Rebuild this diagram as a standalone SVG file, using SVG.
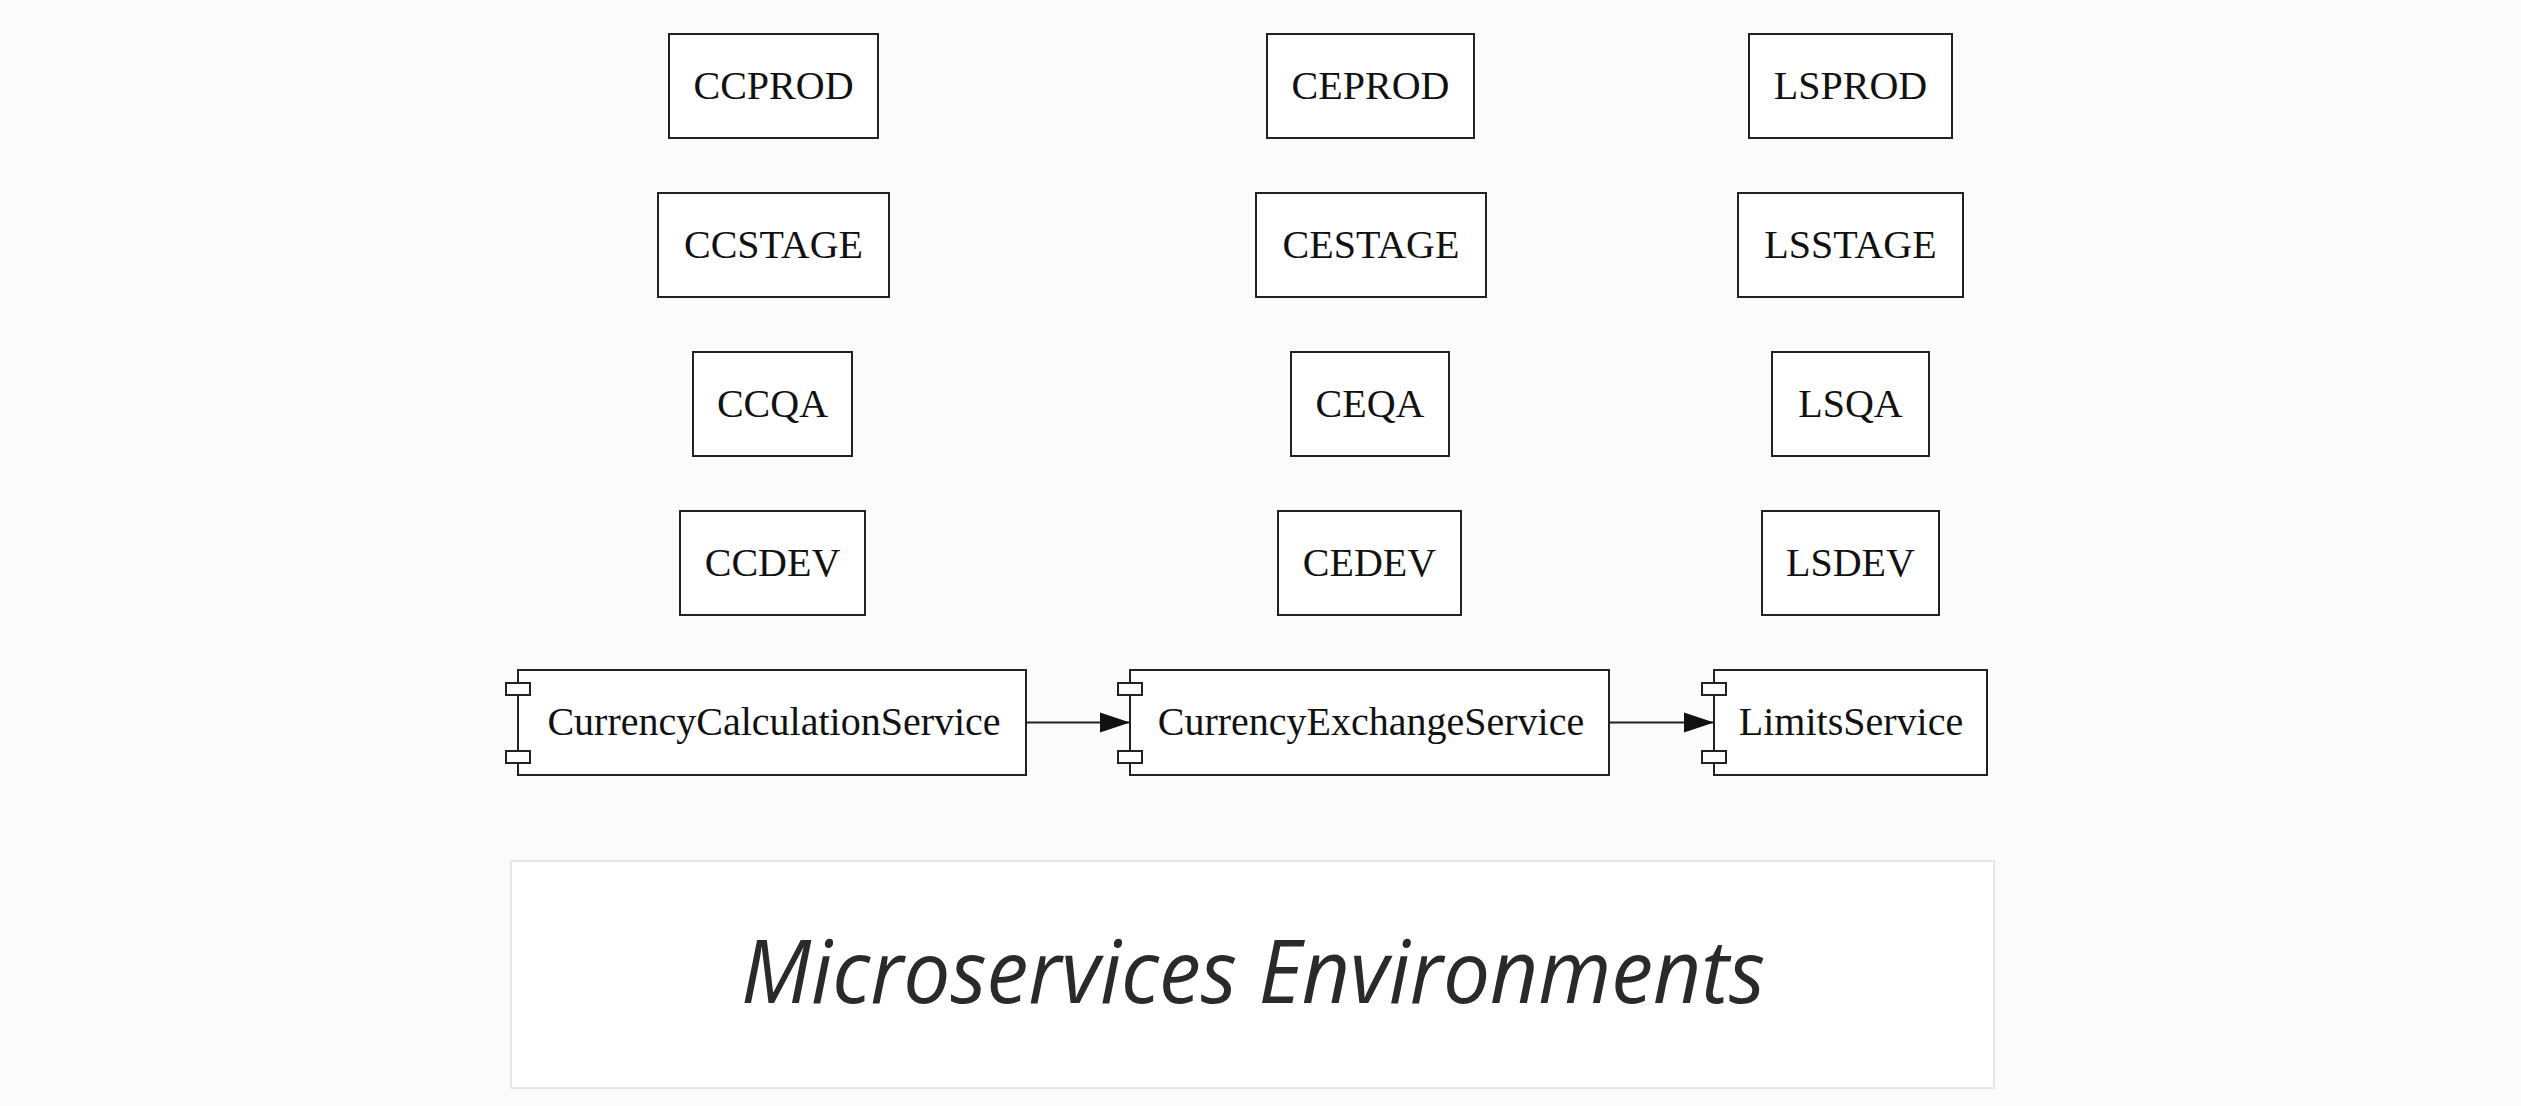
<svg xmlns="http://www.w3.org/2000/svg" width="2521" height="1106" viewBox="0 0 2521 1106">
<style>
.box{fill:#ffffff;stroke:#222;stroke-width:2}
.port{fill:#ffffff;stroke:#222;stroke-width:2}
.lbl{font-family:"Liberation Serif","Times New Roman",serif;font-size:40px;fill:#111;text-anchor:middle}
.edge{stroke:#222;stroke-width:2;fill:none}
.card{fill:#ffffff;stroke:#e6e6e6;stroke-width:2}
.title{font-family:"Open Sans","Noto Sans",sans-serif;font-style:italic;font-size:88px;fill:#2a2a2a;text-anchor:middle}
</style>
<defs>
<marker id="arr" markerUnits="userSpaceOnUse" markerWidth="32" markerHeight="22" refX="30" refY="11" orient="auto">
<path d="M0,1 L30,11 L0,21 Z" fill="#111"/>
</marker>
</defs>
<rect width="2521" height="1106" fill="#fbfbfb"/>

<g id="CCPROD"><rect class="box" x="669" y="34" width="209" height="104"/><text class="lbl" x="773.5" y="99">CCPROD</text></g>
<g id="CCSTAGE"><rect class="box" x="658" y="193" width="231" height="104"/><text class="lbl" x="773.5" y="258">CCSTAGE</text></g>
<g id="CCQA"><rect class="box" x="693" y="352" width="159" height="104"/><text class="lbl" x="772.5" y="417">CCQA</text></g>
<g id="CCDEV"><rect class="box" x="680" y="511" width="185" height="104"/><text class="lbl" x="772.5" y="576">CCDEV</text></g>

<g id="CEPROD"><rect class="box" x="1267" y="34" width="207" height="104"/><text class="lbl" x="1370.5" y="99">CEPROD</text></g>
<g id="CESTAGE"><rect class="box" x="1256" y="193" width="230" height="104"/><text class="lbl" x="1371" y="258">CESTAGE</text></g>
<g id="CEQA"><rect class="box" x="1291" y="352" width="158" height="104"/><text class="lbl" x="1370" y="417">CEQA</text></g>
<g id="CEDEV"><rect class="box" x="1278" y="511" width="183" height="104"/><text class="lbl" x="1369.5" y="576">CEDEV</text></g>

<g id="LSPROD"><rect class="box" x="1749" y="34" width="203" height="104"/><text class="lbl" x="1850.5" y="99">LSPROD</text></g>
<g id="LSSTAGE"><rect class="box" x="1738" y="193" width="225" height="104"/><text class="lbl" x="1850.5" y="258">LSSTAGE</text></g>
<g id="LSQA"><rect class="box" x="1772" y="352" width="157" height="104"/><text class="lbl" x="1850.5" y="417">LSQA</text></g>
<g id="LSDEV"><rect class="box" x="1762" y="511" width="177" height="104"/><text class="lbl" x="1850.5" y="576">LSDEV</text></g>

<g id="CurrencyCalculationService">
<rect class="box" x="518" y="670" width="508" height="105"/>
<rect class="port" x="506" y="683" width="24" height="12"/>
<rect class="port" x="506" y="751" width="24" height="12"/>
<text class="lbl" x="774" y="735">CurrencyCalculationService</text>
</g>
<g id="CurrencyExchangeService">
<rect class="box" x="1130" y="670" width="479" height="105"/>
<rect class="port" x="1118" y="683" width="24" height="12"/>
<rect class="port" x="1118" y="751" width="24" height="12"/>
<text class="lbl" x="1371" y="735">CurrencyExchangeService</text>
</g>
<g id="LimitsService">
<rect class="box" x="1714" y="670" width="273" height="105"/>
<rect class="port" x="1702" y="683" width="24" height="12"/>
<rect class="port" x="1702" y="751" width="24" height="12"/>
<text class="lbl" x="1851" y="735">LimitsService</text>
</g>

<g id="connectors">
<line class="edge" x1="1026" y1="722.5" x2="1130" y2="722.5" marker-end="url(#arr)"/>
<line class="edge" x1="1609" y1="722.5" x2="1714" y2="722.5" marker-end="url(#arr)"/>
</g>

<g id="caption">
<rect class="card" x="511" y="861" width="1483" height="227"/>
<text class="title" x="1253" y="1003" textLength="1024" lengthAdjust="spacingAndGlyphs">Microservices Environments</text>
</g>
</svg>
